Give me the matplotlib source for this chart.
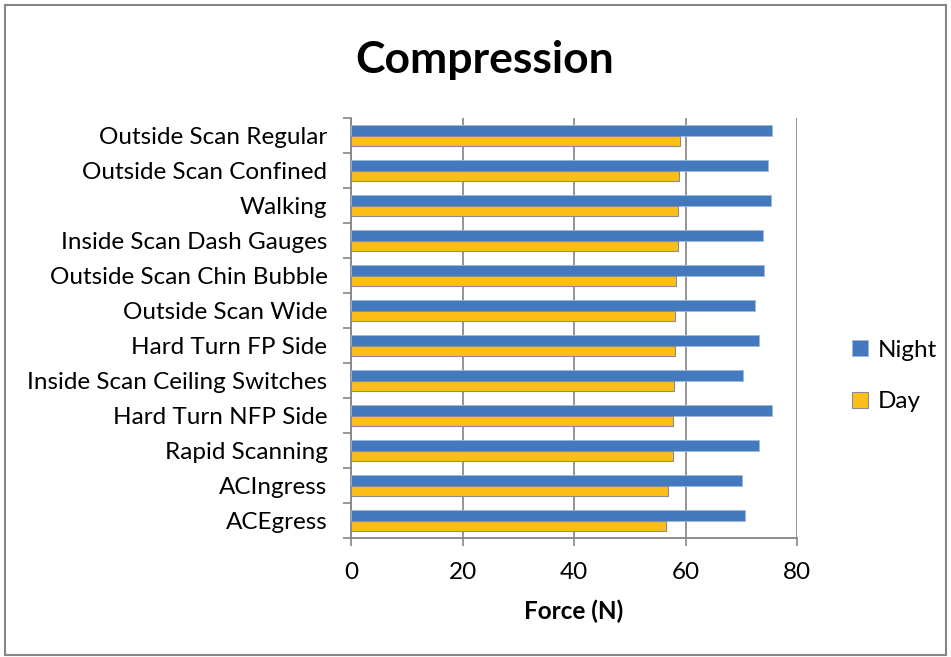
import matplotlib.pyplot as plt
import numpy as np
from matplotlib.patches import Rectangle

# --- Data (bottom to top) ---
categories = ["ACEgress", "ACIngress", "Rapid Scanning", "Hard Turn NFP Side",
              "Inside Scan Ceiling Switches", "Hard Turn FP Side", "Outside Scan Wide",
              "Outside Scan Chin Bubble", "Inside Scan Dash Gauges", "Walking",
              "Outside Scan Confined", "Outside Scan Regular"]
night = [70.7, 70.2, 73.2, 75.45, 70.4, 73.2, 72.5, 74.1, 73.9, 75.3, 74.85, 75.45]
day = [56.55, 56.8, 57.7, 57.7, 57.9, 58.1, 58.1, 58.35, 58.6, 58.6, 58.8, 59.07]
xticks = [0, 20, 40, 60, 80]

plt.rcParams["font.family"] = ["Lato", "DejaVu Sans"]

fig = plt.figure(figsize=(9.51, 6.57), dpi=100)
ax = fig.add_axes([351 / 951, 1 - 538 / 657, 446 / 951, 420 / 657])

y = np.arange(len(categories))
bh = 0.286
ax.barh(y + 0.143, night, height=bh, color="#4479BD", edgecolor="#9DB9DF",
        linewidth=0.6, label="Night", zorder=3)
ax.barh(y - 0.143, day, height=bh, color="#FDBE17", edgecolor="#8C8C8C",
        linewidth=0.8, label="Day", zorder=3)

ax.set_xlim(0, 80)
ax.set_ylim(-0.5, len(categories) - 0.5)
ax.set_xticks(xticks)
ax.set_xticklabels([str(t) for t in xticks], fontsize=17.5)
ax.set_yticks(y)
ax.set_yticklabels(categories, fontsize=17.5)
ax.set_yticks(np.arange(-0.5, len(categories), 1.0), minor=True)
ax.tick_params(axis="y", which="major", length=0, pad=17)
ax.tick_params(axis="y", which="minor", length=6, color="#868686", width=1.2)
ax.tick_params(axis="x", length=6, color="#868686", width=1.2, pad=11)

ax.grid(axis="x", color="#8C8C8C", linewidth=1.3, zorder=0)
for s in ["top", "right"]:
    ax.spines[s].set_visible(False)
for s in ["left", "bottom"]:
    ax.spines[s].set_color("#868686")
    ax.spines[s].set_linewidth(1.3)

ax.set_xlabel("Force (N)", fontsize=17.5, fontweight="bold", labelpad=12)
fig.text(485 / 951, 1 - 60 / 657, "Compression", fontsize=32, fontweight="bold",
         ha="center", va="center")

handles, labels = ax.get_legend_handles_labels()
leg = fig.legend(handles, labels, loc="center left", bbox_to_anchor=(830 / 951, 1 - 376 / 657),
                 frameon=False, fontsize=17.5, handlelength=0.65, handleheight=0.65,
                 labelspacing=1.25, handletextpad=0.4)

fig.patches.append(Rectangle((5 / 951, 2 / 657), 941 / 951, 650 / 657,
                             transform=fig.transFigure, fill=False,
                             edgecolor="#868686", linewidth=1.5))

fig.savefig("out.png", dpi=100)
